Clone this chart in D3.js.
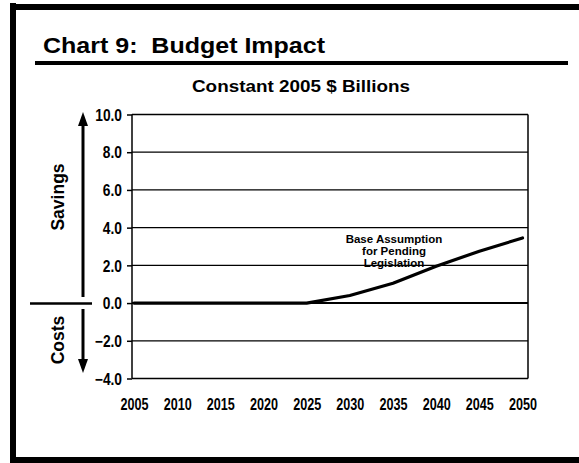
<!DOCTYPE html>
<html>
<head>
<meta charset="utf-8">
<script src="https://cdn.jsdelivr.net/npm/d3@7"></script>
<style>
  html, body { margin: 0; padding: 0; background: #fff; }
  svg { display: block; }
  text { font-family: "Liberation Sans", Arial, Helvetica, sans-serif; font-weight: bold; fill: #000; }
</style>
</head>
<body>
<svg id="chart" width="579" height="463"></svg>
<script>
// Budget impact of pending legislation, constant 2005 $ billions
const years = [2005, 2010, 2015, 2020, 2025, 2030, 2035, 2040, 2045, 2050];
const baseAssumption = [0, 0, 0, 0, 0, 0.4, 1.05, 1.95, 2.75, 3.45];
const yTicks = [-4, -2, 0, 2, 4, 6, 8, 10];
const titleText = "Chart 9:  Budget Impact";
const subtitleText = "Constant 2005 $ Billions";
const seriesLabel = ["Base Assumption", "for Pending", "Legislation"];

const svg = d3.select("#chart");

// squeeze a text horizontally to a narrow face
function condense(sel, k) {
  sel.each(function () {
    const w = this.getComputedTextLength();
    d3.select(this).attr("textLength", w * k).attr("lengthAdjust", "spacingAndGlyphs");
  });
}

// page frame
svg.append("rect").attr("x", 10).attr("y", 3).attr("width", 6).attr("height", 460).attr("fill", "#000");
svg.append("rect").attr("x", 10).attr("y", 4).attr("width", 569).attr("height", 6).attr("fill", "#000");
svg.append("rect").attr("x", 10).attr("y", 457).attr("width", 569).attr("height", 6).attr("fill", "#000");

// heading
svg.append("text")
  .attr("x", 43).attr("y", 53)
  .style("white-space", "pre")
  .attr("font-size", 22)
  .attr("textLength", 282).attr("lengthAdjust", "spacingAndGlyphs")
  .text(titleText);
svg.append("rect").attr("x", 35).attr("y", 61).attr("width", 533).attr("height", 4).attr("fill", "#000");

svg.append("text")
  .attr("x", 301).attr("y", 92)
  .attr("text-anchor", "middle")
  .attr("font-size", 16.5)
  .attr("textLength", 218).attr("lengthAdjust", "spacingAndGlyphs")
  .text(subtitleText);

// plot area
const plotLeft = 132, plotRight = 528;
const x = d3.scaleLinear().domain([2005, 2050]).range([134, 522.5]);
const y = d3.scaleLinear().domain([-4, 10]).range([378.5, 114.5]);

// gridlines and left axis ticks
const yAxis = d3.axisLeft(y)
  .tickValues(yTicks)
  .tickSize(5)
  .tickPadding(5)
  .tickFormat(d3.format(".1f"));
const gy = svg.append("g").attr("transform", `translate(${plotLeft},0)`).call(yAxis);
gy.select(".domain").remove();
gy.selectAll(".tick line").attr("stroke", "#000").attr("stroke-width", 1.5);
gy.selectAll(".tick text")
  .attr("font-size", 16)
  .attr("font-family", "'Liberation Sans', Arial, sans-serif")
  .attr("dy", "0.36em")
  .call(condense, 0.86);

svg.append("g").selectAll("line").data(yTicks).join("line")
  .attr("x1", plotLeft).attr("x2", plotRight)
  .attr("y1", d => y(d)).attr("y2", d => y(d))
  .attr("stroke", "#000")
  .attr("stroke-width", d => (d === 0 ? 2 : 1.3));

// plot frame
svg.append("line").attr("x1", plotLeft).attr("x2", plotLeft)
  .attr("y1", y(10)).attr("y2", y(-4)).attr("stroke", "#000").attr("stroke-width", 1.5);
svg.append("line").attr("x1", plotRight).attr("x2", plotRight)
  .attr("y1", y(10)).attr("y2", y(-4)).attr("stroke", "#000").attr("stroke-width", 1.5);

// year labels
const xAxis = d3.axisBottom(x).tickValues(years).tickSize(0).tickPadding(0).tickFormat(d3.format("d"));
const gx = svg.append("g").attr("transform", "translate(0,410)").call(xAxis);
gx.select(".domain").remove();
gx.selectAll(".tick text")
  .attr("y", 0).attr("dy", 0)
  .attr("font-size", 16)
  .attr("textLength", 28).attr("lengthAdjust", "spacingAndGlyphs");

// series line
const line = d3.line().x((d, i) => x(years[i])).y(d => y(d));
svg.append("path")
  .datum(baseAssumption)
  .attr("d", line)
  .attr("fill", "none")
  .attr("stroke", "#000")
  .attr("stroke-width", 3.2)
  .attr("stroke-linejoin", "round")
  .attr("stroke-linecap", "round");

// series label
svg.append("text")
  .attr("x", 394).attr("y", 243)
  .attr("text-anchor", "middle")
  .attr("font-size", 11.5)
  .selectAll("tspan").data(seriesLabel).join("tspan")
  .attr("x", 394)
  .attr("dy", (d, i) => (i === 0 ? 0 : 11.8))
  .text(d => d);

// savings / costs indicator
const arrowX = 83;
svg.append("line").attr("x1", arrowX).attr("x2", arrowX)
  .attr("y1", 122).attr("y2", 297).attr("stroke", "#000").attr("stroke-width", 3);
svg.append("path")
  .attr("d", `M${arrowX},112 L${arrowX - 5},126 L${arrowX + 5},126 Z`).attr("fill", "#000");
svg.append("line").attr("x1", arrowX).attr("x2", arrowX)
  .attr("y1", 309).attr("y2", 362).attr("stroke", "#000").attr("stroke-width", 3);
svg.append("path")
  .attr("d", `M${arrowX},373 L${arrowX - 5},359 L${arrowX + 5},359 Z`).attr("fill", "#000");
svg.append("line").attr("x1", 30).attr("x2", 92)
  .attr("y1", 303.5).attr("y2", 303.5).attr("stroke", "#000").attr("stroke-width", 2.5);

svg.append("text")
  .attr("transform", "translate(64,197) rotate(-90)")
  .attr("text-anchor", "middle")
  .attr("font-size", 17.5)
  .text("Savings");
svg.append("text")
  .attr("transform", "translate(64,340) rotate(-90)")
  .attr("text-anchor", "middle")
  .attr("font-size", 17.5)
  .text("Costs");
</script>
</body>
</html>
